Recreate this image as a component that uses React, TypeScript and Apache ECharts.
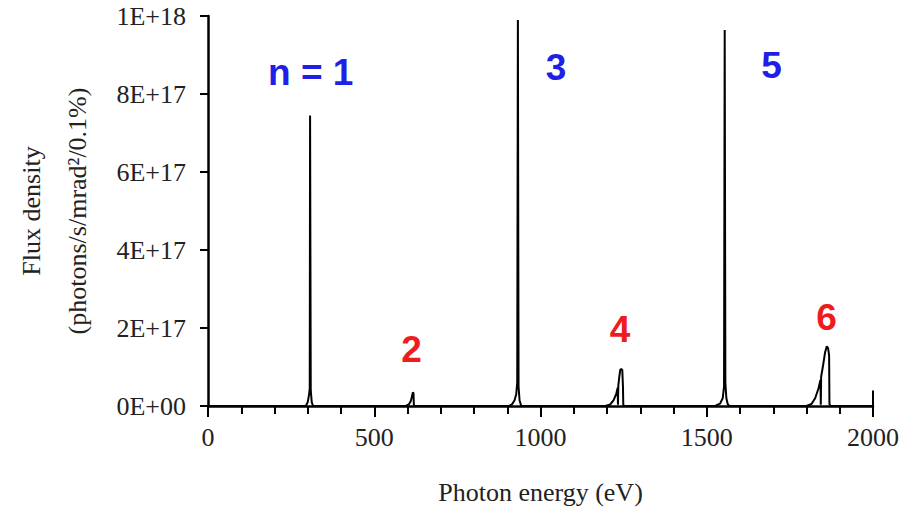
import React, { useEffect, useRef } from "react";
import * as echarts from "echarts";

// Photon energy (eV) and flux density (photons/s/mrad^2/0.1%)
const energy: number[] = [
  0, 294, 300, 304, 306, 307, 309, 312, 316,
  595, 604, 610, 614, 616, 618, 619, 620,
  905, 915, 922, 927, 930, 932, 934, 937, 942,
  1195, 1210, 1220, 1228, 1232, 1233, 1234, 1237, 1240, 1243, 1246, 1248, 1249, 1252,
  1525, 1540, 1548, 1552, 1554, 1556, 1559, 1563, 1568,
  1800, 1815, 1826, 1836, 1842, 1843, 1844, 1850, 1856, 1861, 1865, 1868, 1869, 1872,
  2000,
];
const flux: number[] = [
  0, 0, 1e16, 3e16, 4.5e16, 7.45e17, 4e16, 1e16, 0,
  0, 0.4e16, 1.3e16, 2.6e16, 3.5e16, 3.3e16, 0.5e16, 0,
  0, 0.5e16, 1.5e16, 3e16, 6e16, 9.9e17, 5e16, 1.5e16, 0,
  0, 0.4e16, 1.5e16, 3.2e16, 4.6e16, 0.3e16, 5.2e16, 7.5e16, 9.3e16, 9.5e16, 9.2e16, 5e16, 0.3e16, 0,
  0, 0.6e16, 2e16, 5e16, 9.64e17, 6e16, 2e16, 0.5e16, 0,
  0, 0.5e16, 2e16, 4.5e16, 6.7e16, 0.3e16, 7.5e16, 1.05e17, 1.38e17, 1.53e17, 1.48e17, 1.3e17, 0.5e16, 0,
  0,
];

// Harmonic annotations
const annText: string[] = ["n = 1", "2", "3", "4", "5", "6"];
const annX: number[] = [309, 612, 1047, 1239, 1695, 1860];
const annY: number[] = [8.56e17, 1.44e17, 8.67e17, 1.95e17, 8.74e17, 2.26e17];
const annColor: string[] = ["#1f1fe6", "#ee1c1c", "#1f1fe6", "#ee1c1c", "#1f1fe6", "#ee1c1c"];

const xTickLabels: string[] = ["0", "500", "1000", "1500", "2000"];
const yTickLabels: string[] = ["0E+00", "2E+17", "4E+17", "6E+17", "8E+17", "1E+18"];

const serif = "Liberation Serif, Times New Roman, serif";

export default function App() {
  const ref = useRef<HTMLDivElement>(null);
  useEffect(() => {
    document.body.style.margin = "0";
    if (!ref.current) return;
    const chart = echarts.init(ref.current, undefined, { renderer: "svg" });
    const lineData = energy.map((e, i) => [e, flux[i]]);
    const annData = annX.map((x, i) => ({
      value: [x, annY[i]],
      label: { formatter: annText[i], color: annColor[i] },
    }));
    chart.setOption({
      animation: false,
      backgroundColor: "#ffffff",
      grid: { left: 205, right: 45, top: 16, bottom: 109, containLabel: false },
      xAxis: {
        type: "value",
        min: 0,
        max: 2000,
        interval: 500,
        name: "Photon energy (eV)",
        nameLocation: "middle",
        nameGap: 73,
        nameTextStyle: { fontFamily: serif, fontSize: 26, color: "#222" },
        axisLine: { lineStyle: { color: "#000", width: 2.5 } },
        axisTick: { inside: false, length: 11, lineStyle: { color: "#000", width: 2 } },
        minorTick: { show: true, splitNumber: 5, length: 8, lineStyle: { color: "#000", width: 2 } },
        splitLine: { show: false },
        axisLabel: {
          fontFamily: serif,
          fontSize: 26,
          color: "#222",
          margin: 18,
          formatter: (v: number) => xTickLabels[Math.round(v / 500)] ?? "",
        },
      },
      yAxis: {
        type: "value",
        min: 0,
        max: 1e18,
        interval: 2e17,
        name: "Flux density\n(photons/s/mrad²/0.1%)",
        nameLocation: "middle",
        nameGap: 108,
        nameTextStyle: { fontFamily: serif, fontSize: 26, color: "#222", lineHeight: 46, align: "center" },
        axisLine: { show: true, lineStyle: { color: "#000", width: 2.5 } },
        axisTick: { show: true, inside: false, length: 8, lineStyle: { color: "#000", width: 2 } },
        splitLine: { show: false },
        axisLabel: {
          fontFamily: serif,
          fontSize: 26,
          color: "#222",
          margin: 22,
          formatter: (v: number) => yTickLabels[Math.round(v / 2e17)] ?? "",
        },
      },
      series: [
        {
          type: "line",
          data: lineData,
          showSymbol: false,
          symbol: "none",
          lineStyle: { color: "#000", width: 2 },
          markLine: {
            silent: true,
            symbol: "none",
            label: { show: false },
            lineStyle: { color: "#000", width: 2, type: "solid" },
            data: [[{ coord: [2000, 0] }, { coord: [2000, 4e16] }]],
          },
        },
        {
          type: "scatter",
          data: annData,
          symbolSize: 0,
          silent: true,
          itemStyle: { opacity: 1 },
          label: {
            show: true,
            position: "inside",
            fontFamily: "Liberation Sans, Arial, sans-serif",
            fontWeight: "bold",
            fontSize: 37,
          },
        },
      ],
    });
    return () => chart.dispose();
  }, []);
  return <div ref={ref} style={{ width: 918, height: 515 }} />;
}
